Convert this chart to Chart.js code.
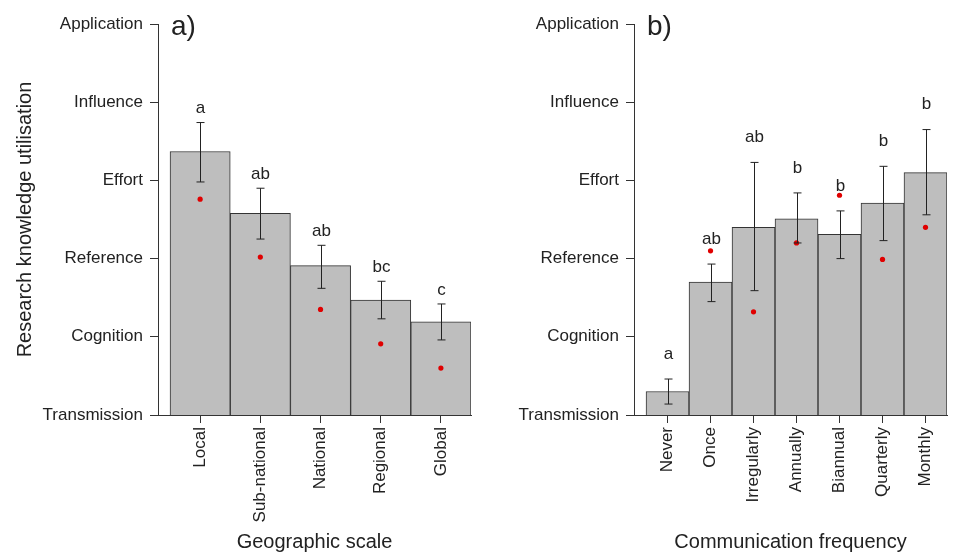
<!DOCTYPE html>
<html>
<head>
<meta charset="utf-8">
<script src="https://cdn.jsdelivr.net/npm/chart.js@4.4.1/dist/chart.umd.min.js"></script>
<style>
  body { margin: 0; background: #fff; width: 960px; height: 552px; overflow: hidden; position: relative; }
  canvas { position: absolute; top: 0; }
</style>
</head>
<body>
<canvas id="chartA" width="480" height="552" style="left:0"></canvas>
<canvas id="chartB" width="480" height="552" style="left:480px"></canvas>
<script>
// utilisation levels, bottom to top (value 1..6)
const levelNames = ['Transmission', 'Cognition', 'Reference', 'Effort', 'Influence', 'Application'];

// a) geographic scale
const geoLabels = ['Local', 'Sub-national', 'National', 'Regional', 'Global'];
const geoMeans = [4.37, 3.58, 2.91, 2.47, 2.19];
const geoHigh = [4.74, 3.90, 3.17, 2.71, 2.42];
const geoLow = [3.98, 3.25, 2.62, 2.23, 1.96];
const geoMedians = [3.76, 3.02, 2.35, 1.91, 1.60];
const geoLetters = ['a', 'ab', 'ab', 'bc', 'c'];

// b) communication frequency
const freqLabels = ['Never', 'Once', 'Irregularly', 'Annually', 'Biannual', 'Quarterly', 'Monthly'];
const freqMeans = [1.30, 2.70, 3.40, 3.51, 3.31, 3.71, 4.10];
const freqHigh = [1.46, 2.93, 4.23, 3.84, 3.61, 4.18, 4.65];
const freqLow = [1.14, 2.45, 2.59, 3.20, 3.00, 3.23, 3.56];
const freqMedians = [null, 3.10, 2.32, 3.20, 3.81, 2.99, 3.40];
const freqLetters = ['a', 'ab', 'ab', 'b', 'b', 'b', 'b'];

Chart.defaults.font.family = '"Liberation Sans", Arial, sans-serif';
Chart.defaults.font.size = 17;
Chart.defaults.color = '#222';

// error bars, significance letters and panel tag
const annotations = {
    id: 'annotations',
    afterDatasetsDraw(chart, args, o) {
        const { ctx, chartArea, scales: { x, y } } = chart;
        ctx.save();
        ctx.strokeStyle = '#222';
        ctx.fillStyle = '#222';
        ctx.lineWidth = 1;
        ctx.font = '17px "Liberation Sans", Arial, sans-serif';
        ctx.textAlign = 'center';
        ctx.textBaseline = 'middle';
        o.high.forEach((hi, i) => {
            const px = Math.round(x.getPixelForValue(i + 0.5)) + 0.5;
            const yh = y.getPixelForValue(hi);
            const yl = y.getPixelForValue(o.low[i]);
            ctx.beginPath();
            ctx.moveTo(px, yh); ctx.lineTo(px, yl);
            ctx.moveTo(px - 4, yh); ctx.lineTo(px + 4, yh);
            ctx.moveTo(px - 4, yl); ctx.lineTo(px + 4, yl);
            ctx.stroke();
            ctx.fillText(o.letters[i], px, yh - o.letterGap);
        });
        ctx.font = '28px "Liberation Sans", Arial, sans-serif';
        ctx.textAlign = 'left';
        ctx.fillText(o.tag, chartArea.left + 13, chartArea.top + 3);
        ctx.restore();
    }
};

function makePanel(canvasId, cfg) {
    const n = cfg.labels.length;
    return new Chart(document.getElementById(canvasId), {
        type: 'bar',
        data: {
            datasets: [
                {
                    type: 'line',
                    data: cfg.medians.map((v, i) => ({ x: i + 0.5, y: v })).filter(p => p.y !== null),
                    showLine: false,
                    pointRadius: 2.6,
                    pointBorderWidth: 0,
                    pointBackgroundColor: '#e00000',
                    order: 0
                },
                {
                    data: cfg.means.map((v, i) => ({ x: i + 0.5, y: v })),
                    backgroundColor: '#bebebe',
                    borderColor: '#333',
                    borderWidth: 1,
                    barPercentage: 1,
                    categoryPercentage: 1,
                    order: 1
                }
            ]
        },
        options: {
            responsive: false,
            animation: false,
            devicePixelRatio: 1,
            layout: { padding: { left: 0, top: 24, right: cfg.padRight, bottom: 0 } },
            plugins: {
                legend: { display: false },
                tooltip: { enabled: false },
                annotations: { high: cfg.high, low: cfg.low, letters: cfg.letters, letterGap: cfg.letterGap, tag: cfg.tag }
            },
            scales: {
                x: {
                    type: 'linear',
                    min: -0.04 * n,
                    max: n,
                    offset: false,
                    afterBuildTicks: s => { s.ticks = cfg.labels.map((_, i) => ({ value: i + 0.5 })); },
                    afterFit: s => { s.height = 137; s.paddingLeft = 0; s.paddingRight = 0; },
                    ticks: {
                        autoSkip: false,
                        minRotation: 90,
                        maxRotation: 90,
                        padding: 4,
                        callback: (v, i) => cfg.labels[i]
                    },
                    grid: { offset: false, drawOnChartArea: false, tickLength: 8, color: '#333' },
                    border: { color: '#333' },
                    title: {
                        display: true,
                        text: cfg.xTitle,
                        font: { size: 20, lineHeight: 1 },
                        padding: 0
                    }
                },
                y: {
                    min: 1,
                    max: 6,
                    afterFit: s => { s.width = cfg.axisX; s.paddingTop = 0; s.paddingBottom = 0; },
                    ticks: {
                        stepSize: 1,
                        padding: 7,
                        callback: v => levelNames[v - 1]
                    },
                    grid: { drawOnChartArea: false, tickLength: 8, color: '#333' },
                    border: { color: '#333' },
                    title: {
                        display: !!cfg.yTitle,
                        text: cfg.yTitle,
                        font: { size: 20, lineHeight: 1 },
                        padding: { top: 15, bottom: 0 }
                    }
                }
            }
        },
        plugins: [annotations]
    });
}

makePanel('chartA', {
    labels: geoLabels, means: geoMeans, high: geoHigh, low: geoLow,
    medians: geoMedians, letters: geoLetters, letterGap: 14, tag: 'a)',
    xTitle: 'Geographic scale', yTitle: 'Research knowledge utilisation',
    axisX: 158, padRight: 9
});

makePanel('chartB', {
    labels: freqLabels, means: freqMeans, high: freqHigh, low: freqLow,
    medians: freqMedians, letters: freqLetters, letterGap: 25, tag: 'b)',
    xTitle: 'Communication frequency', yTitle: '',
    axisX: 154, padRight: 13
});
</script>
</body>
</html>
